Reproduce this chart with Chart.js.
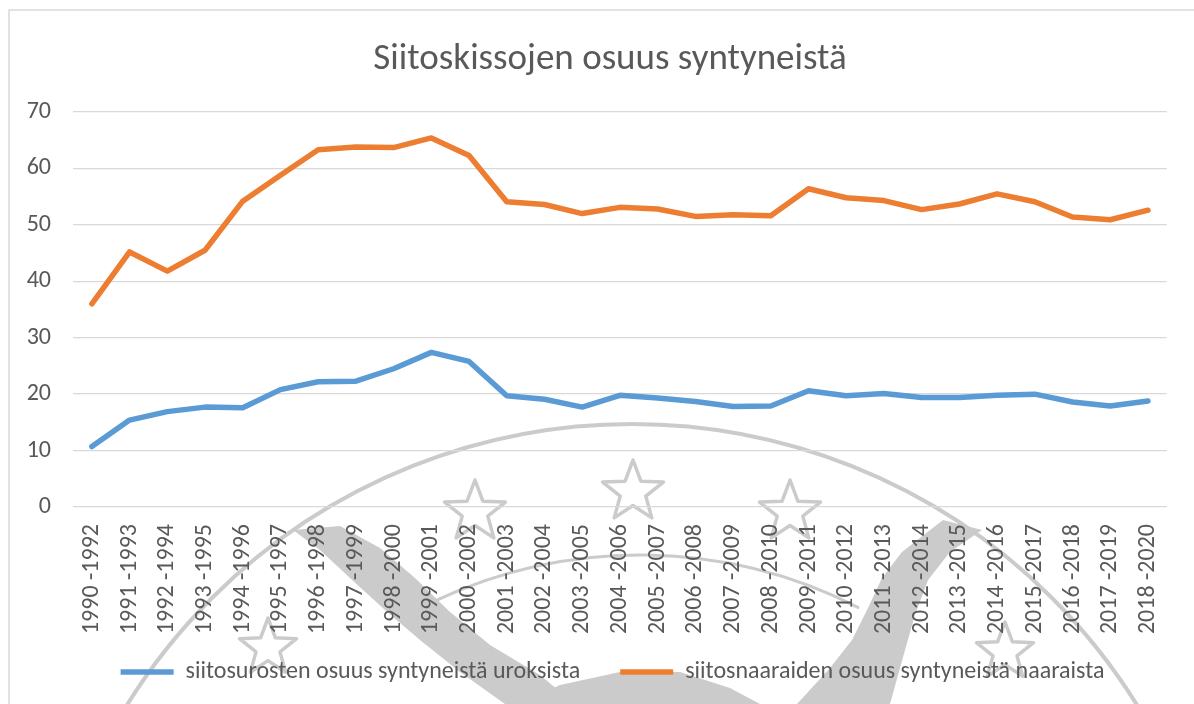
<!DOCTYPE html>
<html>
<head>
<meta charset="utf-8">
<script src="https://cdn.jsdelivr.net/npm/chart.js@4/dist/chart.umd.min.js"></script>
<style>
  html, body { margin: 0; padding: 0; background: #fff; }
  #wrap { width: 1194px; height: 704px; }
</style>
</head>
<body>
<div id="wrap"><canvas id="c"></canvas></div>
<script>
// periods on the x axis
var categories = ['1990 -1992', '1991 -1993', '1992 -1994', '1993 -1995', '1994 -1996',
    '1995 -1997', '1996 -1998', '1997 -1999', '1998 -2000', '1999 -2001', '2000 -2002',
    '2001 -2003', '2002 -2004', '2003 -2005', '2004 -2006', '2005 -2007', '2006 -2008',
    '2007 -2009', '2008 -2010', '2009 -2011', '2010 -2012', '2011 -2013', '2012 -2014',
    '2013 -2015', '2014 -2016', '2015 -2017', '2016 -2018', '2017 -2019', '2018 -2020'];

// siitosurosten osuus syntyneistä uroksista
var males = [10.7, 15.4, 16.9, 17.7, 17.6, 20.8, 22.2, 22.3, 24.5, 27.4, 25.8,
    19.7, 19.1, 17.7, 19.8, 19.3, 18.7, 17.8, 17.9, 20.6, 19.7, 20.1, 19.4,
    19.4, 19.8, 20.0, 18.6, 17.9, 18.8];

// siitosnaaraiden osuus syntyneistä naaraista
var females = [36.0, 45.2, 41.8, 45.5, 54.2, 58.8, 63.3, 63.8, 63.7, 65.4, 62.3,
    54.1, 53.6, 52.0, 53.1, 52.8, 51.5, 51.8, 51.6, 56.4, 54.8, 54.3, 52.7,
    53.7, 55.5, 54.1, 51.4, 50.9, 52.6];

var seriesNames = ['siitosurosten osuus syntyneistä uroksista',
    'siitosnaaraiden osuus syntyneistä naaraista'];
var titleText = 'Siitoskissojen osuus syntyneistä';

var FONT = "Carlito, Calibri, 'Liberation Sans', Arial, sans-serif";
var TXT = '#595959';
var WM = '#cbcbcb';

function star(ctx, cx, cy, R) {
    var r = R * 0.42;
    ctx.beginPath();
    for (var i = 0; i < 10; i++) {
        var a = -Math.PI / 2 + i * Math.PI / 5;
        var rr = i % 2 ? r : R;
        var px = cx + Math.cos(a) * rr, py = cy + Math.sin(a) * rr;
        if (i === 0) ctx.moveTo(px, py); else ctx.lineTo(px, py);
    }
    ctx.closePath();
    ctx.stroke();
}

function poly(ctx, pts) {
    ctx.beginPath();
    ctx.moveTo(pts[0][0], pts[0][1]);
    for (var i = 1; i < pts.length; i++) ctx.lineTo(pts[i][0], pts[i][1]);
    ctx.closePath();
    ctx.fill();
}

// faint logo behind the chart + the frame of the chart box
var backdrop = {
    id: 'backdrop',
    afterLayout: function (chart) {
        // excel centres title/legend on the whole chart box, which is wider than the crop
        var t = chart.titleBlock, l = chart.legend;
        t.left += 19.5; t.right += 19.5;
        l.left += 22; l.right += 22;
        l.top -= 15; l.bottom -= 15;
    },
    beforeDraw: function (chart) {
        var ctx = chart.ctx;
        ctx.save();
        ctx.fillStyle = '#fff';
        ctx.fillRect(0, 0, chart.width, chart.height);

        ctx.strokeStyle = WM;
        ctx.fillStyle = WM;
        ctx.lineJoin = 'round';
        ctx.lineCap = 'round';

        ctx.lineWidth = 4;
        ctx.beginPath();
        ctx.arc(632, 1018, 594, Math.PI, 2 * Math.PI);
        ctx.stroke();

        ctx.lineWidth = 3;
        ctx.beginPath();
        ctx.arc(640, 1035, 480, Math.PI * 1.36, Math.PI * 1.65);
        ctx.stroke();

        ctx.lineWidth = 3.5;
        star(ctx, 475, 512, 32);
        star(ctx, 633, 492, 32);
        star(ctx, 790, 512, 32);
        star(ctx, 268, 648, 30);
        star(ctx, 1005, 652, 30);

        // bird heads
        poly(ctx, [[293, 530], [340, 526], [380, 548], [415, 578], [450, 612], [490, 645],
            [540, 675], [575, 704], [505, 704], [460, 672], [420, 640], [385, 610],
            [350, 578], [320, 550]]);
        poly(ctx, [[943, 520], [982, 530], [950, 552], [928, 580], [915, 615], [905, 650],
            [890, 704], [797, 704], [830, 668], [852, 640], [868, 608], [882, 578], [902, 552]]);
        poly(ctx, [[520, 704], [560, 685], [620, 672], [680, 672], [730, 688], [760, 704]]);

        // chart box frame (left + top visible)
        ctx.strokeStyle = '#d9d9d9';
        ctx.lineWidth = 1.5;
        ctx.beginPath();
        ctx.moveTo(9, 704);
        ctx.lineTo(9, 10);
        ctx.lineTo(1194, 10);
        ctx.stroke();
        ctx.restore();
    }
};

var ctx = document.getElementById('c').getContext('2d');
var chart = new Chart(ctx, {
    type: 'line',
    data: {
        labels: categories,
        datasets: [{
            label: seriesNames[0],
            data: males,
            borderColor: '#5b9bd5',
            backgroundColor: '#5b9bd5',
            borderWidth: 5.5,
            borderCapStyle: 'round',
            borderJoinStyle: 'round',
            pointRadius: 0,
            pointStyle: 'line',
            tension: 0
        }, {
            label: seriesNames[1],
            data: females,
            borderColor: '#ed7d31',
            backgroundColor: '#ed7d31',
            borderWidth: 5.5,
            borderCapStyle: 'round',
            borderJoinStyle: 'round',
            pointRadius: 0,
            pointStyle: 'line',
            tension: 0
        }]
    },
    options: {
        responsive: true,
        maintainAspectRatio: false,
        animation: false,
        layout: { padding: { left: 0, right: 13, top: 0, bottom: -5 } },
        plugins: {
            title: {
                display: true,
                text: titleText,
                color: TXT,
                font: { family: FONT, size: 37, weight: 'normal', lineHeight: 1.2 },
                padding: { top: 38, bottom: 29.6 }
            },
            legend: {
                position: 'bottom',
                labels: {
                    color: TXT,
                    font: { family: FONT, size: 24 },
                    usePointStyle: true,
                    pointStyleWidth: 53,
                    padding: 40
                }
            },
            tooltip: { enabled: false }
        },
        scales: {
            x: {
                offset: true,
                grid: { display: false, drawTicks: false },
                border: { display: false },
                ticks: {
                    color: TXT,
                    font: { family: FONT, size: 24 },
                    minRotation: 90,
                    maxRotation: 90,
                    autoSkip: false,
                    padding: 17
                },
                afterFit: function (scale) { scale.height = 128; }
            },
            y: {
                min: 0,
                max: 70,
                grid: { color: '#d9d9d9', lineWidth: 1.3, drawTicks: false },
                border: { display: false },
                ticks: {
                    stepSize: 10,
                    color: TXT,
                    font: { family: FONT, size: 24 },
                    padding: 22
                },
                afterFit: function (scale) { scale.width = 73; }
            }
        }
    },
    plugins: [backdrop]
});
</script>
</body>
</html>
